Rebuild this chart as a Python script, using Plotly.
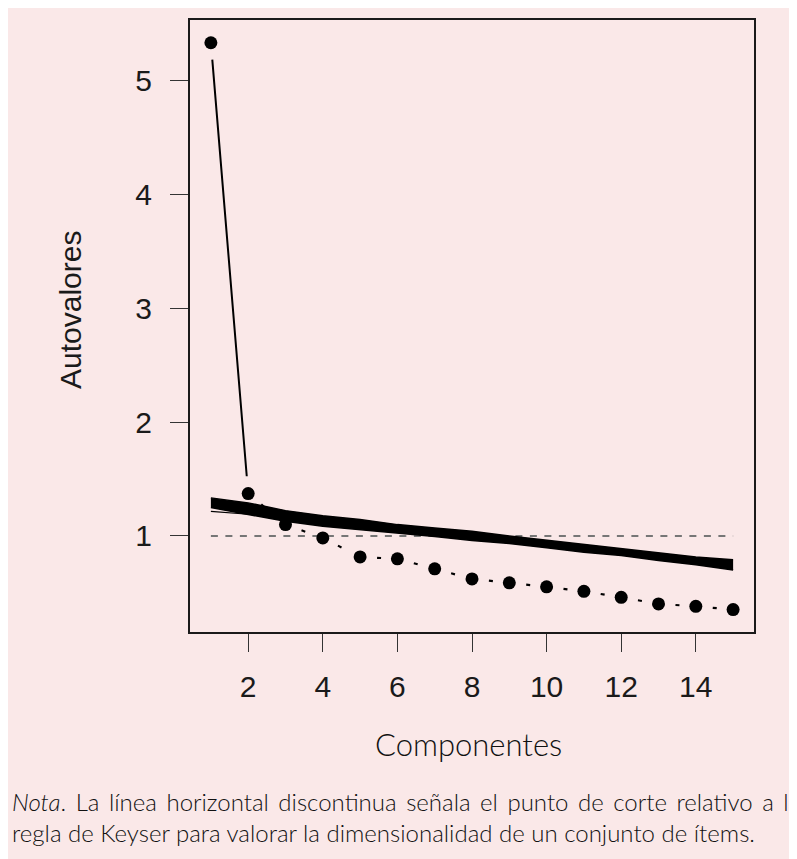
import plotly.graph_objects as go

# ---- data ----
componentes = list(range(1, 16))
autovalores = [5.335, 1.372, 1.099, 0.982, 0.815, 0.798, 0.710, 0.622,
               0.587, 0.552, 0.513, 0.460, 0.402, 0.381, 0.352]
banda_sup = [1.334, 1.290, 1.222, 1.176, 1.143, 1.099, 1.070, 1.040,
             0.998, 0.961, 0.924, 0.893, 0.851, 0.815, 0.790]
banda_inf = [1.249, 1.190, 1.128, 1.084, 1.055, 1.020, 0.994, 0.959,
             0.932, 0.895, 0.856, 0.827, 0.783, 0.747, 0.700]
linea_fina_x = [1, 2]
linea_fina_y = [1.215, 1.190]
corte_x = [1, 15]
corte_y = [1, 1]
x_ticks = [2, 4, 6, 8, 10, 12, 14]
y_ticks = [1, 2, 3, 4, 5]

PINK = "#fae8e8"
OFF = 8  # default page margin of the html body
W, H = 797 - OFF, 859 - OFF
ML, MT = 190 - OFF, 20 - OFF
MR = W - (754 - OFF)
MB = H - (632 - OFF)
PW, PH = W - ML - MR, H - MT - MB


def px_x(p):
    """screen x pixel -> paper coordinate"""
    return (p - OFF - ML) / PW


def px_y(p):
    """screen y pixel -> paper coordinate"""
    return (H - MB - (p - OFF)) / PH


fig = go.Figure()

# Keyser cut-off line
fig.add_trace(go.Scatter(x=corte_x, y=corte_y, mode="lines",
                         line=dict(color="#767676", width=2, dash="7px,7.5px"),
                         hoverinfo="skip"))

# band of simulated eigenvalues
fig.add_trace(go.Scatter(x=componentes, y=banda_inf, mode="lines",
                         line=dict(color="black", width=1.5), hoverinfo="skip"))
fig.add_trace(go.Scatter(x=componentes, y=banda_sup, mode="lines",
                         line=dict(color="black", width=1.5), fill="tonexty",
                         fillcolor="black", hoverinfo="skip"))
fig.add_trace(go.Scatter(x=linea_fina_x, y=linea_fina_y, mode="lines",
                         line=dict(color="black", width=1.2), hoverinfo="skip"))

# scree line: first segment solid (with gaps at the points)
fig.add_trace(go.Scatter(x=componentes[:2], y=autovalores[:2], mode="lines",
                         line=dict(color="black", width=2,
                                   dash="0px,17px,418px,1000px"),
                         hoverinfo="skip"))
# remaining segments: short marks between points
seg_x, seg_y = [], []
for i in range(1, len(componentes) - 1):
    seg_x += [componentes[i], componentes[i + 1], None]
    seg_y += [autovalores[i], autovalores[i + 1], None]
fig.add_trace(go.Scatter(x=seg_x, y=seg_y, mode="lines", connectgaps=False,
                         line=dict(color="black", width=2.2,
                                   dash="0px,17px,4px,200px"),
                         hoverinfo="skip"))
# points
fig.add_trace(go.Scatter(x=componentes, y=autovalores, mode="markers",
                         marker=dict(color="black", size=13,
                                     line=dict(width=0)),
                         hoverinfo="skip"))

tick_font = dict(family="Liberation Sans, Arial, sans-serif", size=30, color="#1a1a1a")

fig.update_xaxes(range=[0.44, 15.56], tickvals=x_ticks, ticktext=[str(v) for v in x_ticks],
                 showgrid=False, zeroline=False, showline=True, mirror=True,
                 linecolor="#1a1a1a", linewidth=2, ticks="outside", ticklen=18,
                 tickwidth=1.3, tickcolor="#333333", tickfont=tick_font,
                 ticklabelstandoff=9)
fig.update_yaxes(range=[0.155, 5.535], tickvals=y_ticks, ticktext=[str(v) for v in y_ticks],
                 showgrid=False, zeroline=False, showline=True, mirror=True,
                 linecolor="#1a1a1a", linewidth=2, ticks="outside", ticklen=18,
                 tickwidth=1.3, tickcolor="#333333", tickfont=tick_font,
                 ticklabelstandoff=12)

nota_1 = "<i>Nota</i>. La línea horizontal discontinua señala el punto de corte relativo a la"
nota_1 = nota_1.replace(" ", " \u200a\u200a")
nota_2 = "regla de Keyser para valorar la dimensionalidad de un conjunto de ítems."

text_font = dict(family="Lato, sans-serif", size=24, color="#111111", weight=300)

annotations = [
    dict(text="Autovalores", x=px_x(70), y=px_y(310), xref="paper", yref="paper",
         textangle=-90, showarrow=False, xanchor="center", yanchor="middle",
         font=dict(family="Liberation Sans, Arial, sans-serif", size=30, color="#1a1a1a")),
    dict(text="Componentes", x=px_x(468), y=px_y(744), xref="paper", yref="paper",
         showarrow=False, xanchor="center", yanchor="middle",
         font=dict(family="Lato, sans-serif", size=31, color="#111111", weight=300)),
    dict(text=nota_1,
         x=px_x(10), y=px_y(801), xref="paper", yref="paper", showarrow=False,
         xanchor="left", yanchor="middle", font=text_font),
    dict(text=nota_2,
         x=px_x(10), y=px_y(832), xref="paper", yref="paper", showarrow=False,
         xanchor="left", yanchor="middle", font=text_font),
]

fig.update_layout(width=W, height=H, margin=dict(l=ML, r=MR, t=MT, b=MB, autoexpand=False),
                  paper_bgcolor=PINK, plot_bgcolor=PINK, showlegend=False,
                  annotations=annotations)

fig.write_html("out.html")
